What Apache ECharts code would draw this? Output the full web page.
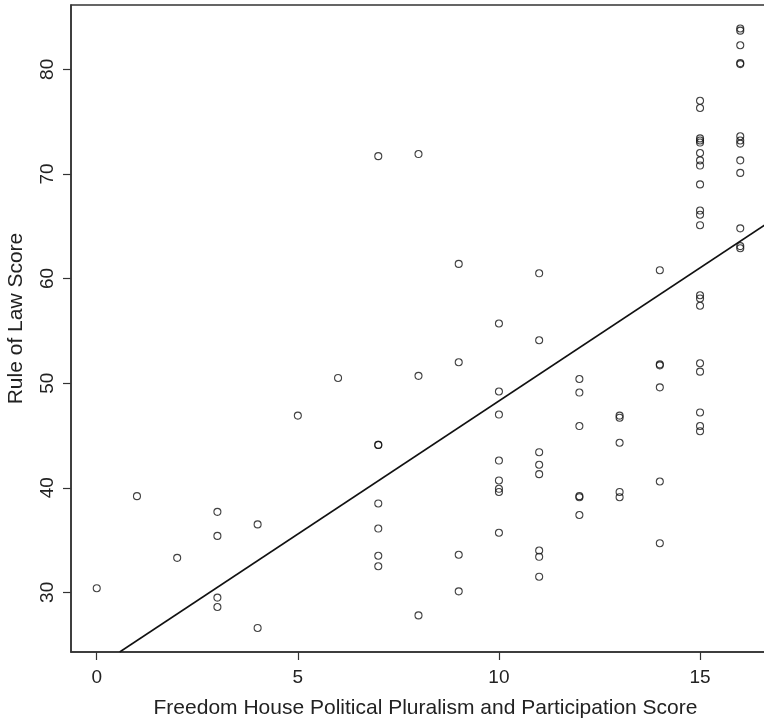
<!DOCTYPE html>
<html>
<head>
    <meta charset="utf-8">
    <title>Rule of Law vs Political Pluralism</title>
    <style>
        body { margin: 0; background: #fff; }
        #main { width: 764px; height: 725px; }
    </style>
</head>
<body>
<div id="main"></div>
<script src="https://cdn.jsdelivr.net/npm/echarts@6/dist/echarts.min.js"></script>
<script>
    // Freedom House political pluralism score (x) and rule of law score (y), one entry per country
    var pluralism = [
        0, 1, 2, 3, 3, 3, 3, 4, 4, 5, 6,
        7, 7, 7, 7, 7, 7, 7,
        8, 8, 8,
        9, 9, 9, 9,
        10, 10, 10, 10, 10, 10, 10, 10,
        11, 11, 11, 11, 11, 11, 11, 11,
        12, 12, 12, 12, 12, 12,
        13, 13, 13, 13, 13,
        14, 14, 14, 14, 14, 14,
        15, 15, 15, 15, 15, 15, 15, 15, 15, 15, 15, 15, 15, 15, 15, 15, 15, 15, 15, 15,
        16, 16, 16, 16, 16, 16, 16, 16, 16, 16, 16, 16, 16
    ];
    var ruleOfLaw = [
        30.4, 39.2, 33.3, 37.7, 35.4, 29.5, 28.6, 36.5, 26.6, 46.9, 50.5,
        71.7, 44.1, 44.1, 38.5, 36.1, 33.5, 32.5,
        71.9, 50.7, 27.8,
        61.4, 52.0, 33.6, 30.1,
        55.7, 49.2, 47.0, 42.6, 40.7, 39.9, 39.6, 35.7,
        60.5, 54.1, 43.4, 42.2, 41.3, 34.0, 33.4, 31.5,
        50.4, 49.1, 45.9, 39.2, 39.1, 37.4,
        46.9, 46.7, 44.3, 39.6, 39.1,
        60.8, 51.8, 51.7, 49.6, 40.6, 34.7,
        77.0, 76.3, 73.4, 73.2, 73.0, 72.0, 71.3, 70.8, 69.0, 66.5, 66.1, 65.1, 58.4, 58.1, 57.4, 51.9, 51.1, 47.2, 45.9, 45.4,
        83.9, 83.7, 82.3, 80.6, 80.5, 73.6, 73.2, 72.9, 71.3, 70.1, 64.8, 63.1, 62.9
    ];
    // fitted regression line, end points
    var fitX = [0.57, 16.64];
    var fitY = [24.3, 65.2];

    var xTicks = [0, 5, 10, 15];
    var yTicks = [30, 40, 50, 60, 70, 80];

    var points = pluralism.map(function (x, i) {
        return [x, ruleOfLaw[i]];
    });
    var fitLine = fitX.map(function (x, i) {
        return [x, fitY[i]];
    });

    var chart = echarts.init(document.getElementById('main'));
    var font = 'Liberation Sans, Arial, sans-serif';

    chart.setOption({
        animation: false,
        grid: {
            left: 71,
            top: 5,
            right: -2,
            bottom: 73,
            outerBoundsMode: 'none',
            containLabel: false,
            show: true,
            borderColor: '#333',
            borderWidth: 1.5
        },
        xAxis: {
            type: 'value',
            min: -0.64,
            max: 16.64,
            name: 'Freedom House Political Pluralism and Participation Score',
            nameLocation: 'middle',
            nameGap: 46,
            nameTextStyle: {color: '#222', fontSize: 21, fontFamily: font, padding: [0, 0, 0, 14]},
            axisLine: {show: true, onZero: false, lineStyle: {color: '#333', width: 1.5}},
            axisTick: {show: true, length: 8, customValues: xTicks, lineStyle: {color: '#333', width: 1.2}},
            axisLabel: {customValues: xTicks, margin: 16, color: '#222', fontSize: 19, fontFamily: font},
            splitLine: {show: false}
        },
        yAxis: {
            type: 'value',
            min: 24.3,
            max: 86.15,
            name: 'Rule of Law Score',
            nameLocation: 'middle',
            nameGap: 44,
            nameTextStyle: {color: '#222', fontSize: 21, fontFamily: font, padding: [0, 0, 0, 20]},
            axisLine: {show: true, onZero: false, lineStyle: {color: '#333', width: 1.5}},
            axisTick: {show: true, length: 8, customValues: yTicks, lineStyle: {color: '#333', width: 1.2}},
            axisLabel: {customValues: yTicks, rotate: 90, margin: 14, color: '#222', fontSize: 19, fontFamily: font},
            splitLine: {show: false}
        },
        series: [
            {
                type: 'scatter',
                data: points,
                symbol: 'circle',
                symbolSize: 7,
                itemStyle: {color: 'rgba(255,255,255,0)', borderColor: '#111', borderWidth: 1.1}
            },
            {
                type: 'line',
                data: fitLine,
                symbol: 'none',
                lineStyle: {color: '#111', width: 1.5}
            }
        ]
    });
</script>
</body>
</html>
